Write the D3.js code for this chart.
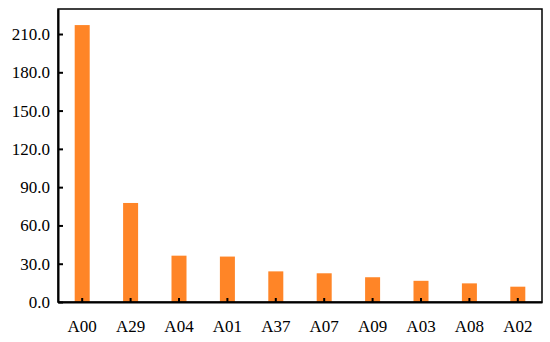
<!DOCTYPE html>
<html lang="en">
<head>
    <meta charset="UTF-8">
    <title>Bar Chart</title>
    <script src="https://d3js.org/d3.v7.min.js"></script>
    <style>
        body { margin: 0; background: #fff; }
        svg { display: block; }
    </style>
</head>
<body>
    <svg width="550" height="342"></svg>
    <script>
        const categories = ["A00", "A29", "A04", "A01", "A37", "A07", "A09", "A03", "A08", "A02"];
        const values = [217, 77.6, 36.3, 35.6, 24.0, 22.5, 19.4, 16.6, 14.6, 12.0];
        const yTicks = [0, 30, 60, 90, 120, 150, 180, 210];

        const margin = { top: 9, right: 8, bottom: 40, left: 58 },
              width = 550 - margin.left - margin.right,
              height = 342 - margin.top - margin.bottom;

        const svg = d3.select("svg")
                      .append("g")
                      .attr("transform", `translate(${margin.left},${margin.top})`);

        const x = d3.scaleBand()
                    .domain(categories)
                    .range([0, width])
                    .paddingInner(0.69)
                    .paddingOuter(0.345);

        const y = d3.scaleLinear()
                    .domain([0, 229.6])
                    .range([height, 0]);

        // Bars
        svg.selectAll("rect.bar")
           .data(categories)
           .enter()
           .append("rect")
           .attr("class", "bar")
           .attr("x", d => x(d))
           .attr("width", x.bandwidth())
           .attr("y", (d, i) => y(values[i]))
           .attr("height", (d, i) => height - y(values[i]))
           .attr("fill", "#ff8527");

        // Frame
        svg.append("rect")
           .attr("width", width)
           .attr("height", height)
           .attr("fill", "none")
           .attr("stroke", "#000")
           .attr("stroke-width", 1.5);

        // Axes with inward ticks
        const xAxis = svg.append("g")
           .attr("transform", `translate(0,${height})`)
           .call(d3.axisBottom(x).tickSizeInner(-4).tickSizeOuter(0).tickPadding(18));

        const yAxis = svg.append("g")
           .call(d3.axisLeft(y).tickValues(yTicks).tickFormat(d3.format(".1f"))
                 .tickSizeInner(-5).tickSizeOuter(0).tickPadding(8));

        [xAxis, yAxis].forEach(g => {
            g.attr("font-family", "'Liberation Serif', 'Times New Roman', serif")
             .attr("font-size", 17);
            g.selectAll(".tick text").attr("fill", "#000");
            g.select(".domain").attr("stroke", "#000").attr("stroke-width", 2);
            g.selectAll(".tick line").attr("stroke", "#000").attr("stroke-width", 2);
        });
    </script>
</body>
</html>
